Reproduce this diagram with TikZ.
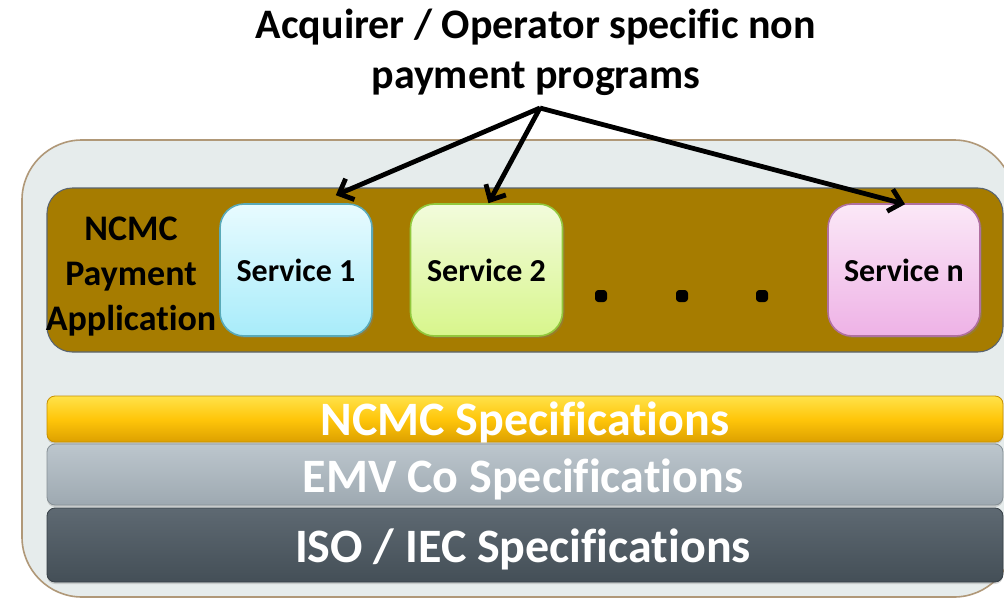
\documentclass[tikz,border=0pt]{standalone}
\usepackage{fontspec}
\setmainfont{Carlito}[Ligatures=NoCommon]
\usetikzlibrary{arrows.meta,shadows,calc}
\definecolor{outerfill}{HTML}{E6ECEC}
\definecolor{outerdraw}{HTML}{B09878}
\definecolor{panelfill}{HTML}{A67C00}
\definecolor{paneldraw}{HTML}{5A6470}
\definecolor{cyanT}{HTML}{E8FBFF}
\definecolor{cyanB}{HTML}{A8ECFA}
\definecolor{cyanD}{HTML}{5AAAB8}
\definecolor{greenT}{HTML}{F2FBDC}
\definecolor{greenB}{HTML}{D8F68C}
\definecolor{greenD}{HTML}{92C83C}
\definecolor{pinkT}{HTML}{FBE8F7}
\definecolor{pinkB}{HTML}{EEB2E6}
\definecolor{pinkD}{HTML}{B070A0}
\definecolor{yelT}{HTML}{FFE24A}
\definecolor{yelM}{HTML}{FFC60A}
\definecolor{yelB}{HTML}{DDA000}
\definecolor{emvT}{HTML}{BCC6CD}
\definecolor{emvB}{HTML}{9EA9B1}
\definecolor{isoT}{HTML}{5E6972}
\definecolor{isoB}{HTML}{444F57}
\begin{document}
\begin{tikzpicture}[x=0.75pt,y=-0.75pt,
  svc/.style={rectangle, rounded corners=18pt, line width=1.2pt,
    minimum width=114pt, minimum height=99pt, inner sep=0pt,
    font=\fontsize{24}{28}\selectfont\bfseries, text=black,
    drop shadow={opacity=0.35, shadow xshift=1.5pt, shadow yshift=-1.5pt}},
  bar/.style={rectangle, rounded corners=6pt, minimum width=717pt, inner sep=0pt,
    drop shadow={opacity=0.3, shadow xshift=0pt, shadow yshift=-1.5pt}},
  spectext/.style={anchor=base, inner sep=0pt, text=white,
    font=\fontsize{36}{40}\selectfont\bfseries},
  titletext/.style={anchor=base, inner sep=0pt, text=black,
    font=\fontsize{31.5}{36}\selectfont\bfseries},
  apptext/.style={anchor=base, inner sep=0pt, text=black,
    font=\fontsize{27}{32}\selectfont\bfseries},
  pointer/.style={line width=3.6pt, draw=black,
    -{Straight Barb[length=9pt,width=17pt]}}
]
\useasboundingbox (0,0) rectangle (1004,600);
\clip (0,0) rectangle (1004,600);
\fill[white] (0,0) rectangle (1004,600);

% outer container
\draw[fill=outerfill, draw=outerdraw, line width=1.2pt, rounded corners=45pt]
  (22,140) rectangle (1014,597);

% payment application panel
\draw[fill=panelfill, draw=paneldraw, line width=0.8pt, rounded corners=19pt]
  (47,188) rectangle (1003,352);

% application label
\node[apptext] (app1) at (131,240) {NCMC};
\node[apptext] (app2) at (131,285) {Payment};
\node[apptext] (app3) at (131,330) {Application};

% services
\node[svc, top color=cyanT, bottom color=cyanB, draw=cyanD] (s1) at (296,270) {Service 1};
\node[svc, top color=greenT, bottom color=greenB, draw=greenD] (s2) at (486.5,270) {Service 2};
\node[svc, top color=pinkT, bottom color=pinkB, draw=pinkD] (sn) at (904,270) {Service n};

% dots
\foreach \dx in {601,682,762}
  \fill[black, rounded corners=2.5pt] (\dx-6,290) rectangle (\dx+6,302);

% specification bars
\node[bar, minimum height=46*0.75pt, top color=yelT, bottom color=yelB, middle color=yelM,
  draw=yelB!90!black, line width=0.6pt] (ncmcbar) at (525,419) {};
\node[bar, minimum height=61*0.75pt, top color=emvT, bottom color=emvB,
  draw=emvB!85!black, line width=0.6pt] (emvbar) at (525,474.5) {};
\node[bar, minimum height=74*0.75pt, top color=isoT, bottom color=isoB,
  draw=isoB!80!black, line width=0.6pt] (isobar) at (525,545) {};

\node[spectext] (ncmctxt) at (525,435) {NCMC Specifications};
\node[spectext] (emvtxt) at (523,492) {EMV Co Specifications};
\node[spectext] (isotxt) at (523,562) {ISO / IEC Specifications};

% title
\node[titletext] (title1) at (536,38) {Acquirer / Operator specific non};
\node[titletext] (title2) at (536,88) {payment programs};

% arrows
\coordinate (src) at (540,108);
\coordinate (t1) at ($(s1.north east)+(-37*0.75pt,8*0.75pt)$);
\coordinate (t2) at ($(s2.north)+(2*0.75pt,0)$);
\coordinate (tn) at ($(sn.north)+(1*0.75pt,-1*0.75pt)$);
\draw[pointer] (src) -- (t1);
\draw[pointer] (src) -- (t2);
\draw[pointer] (src) -- (tn);
\end{tikzpicture}
\end{document}
